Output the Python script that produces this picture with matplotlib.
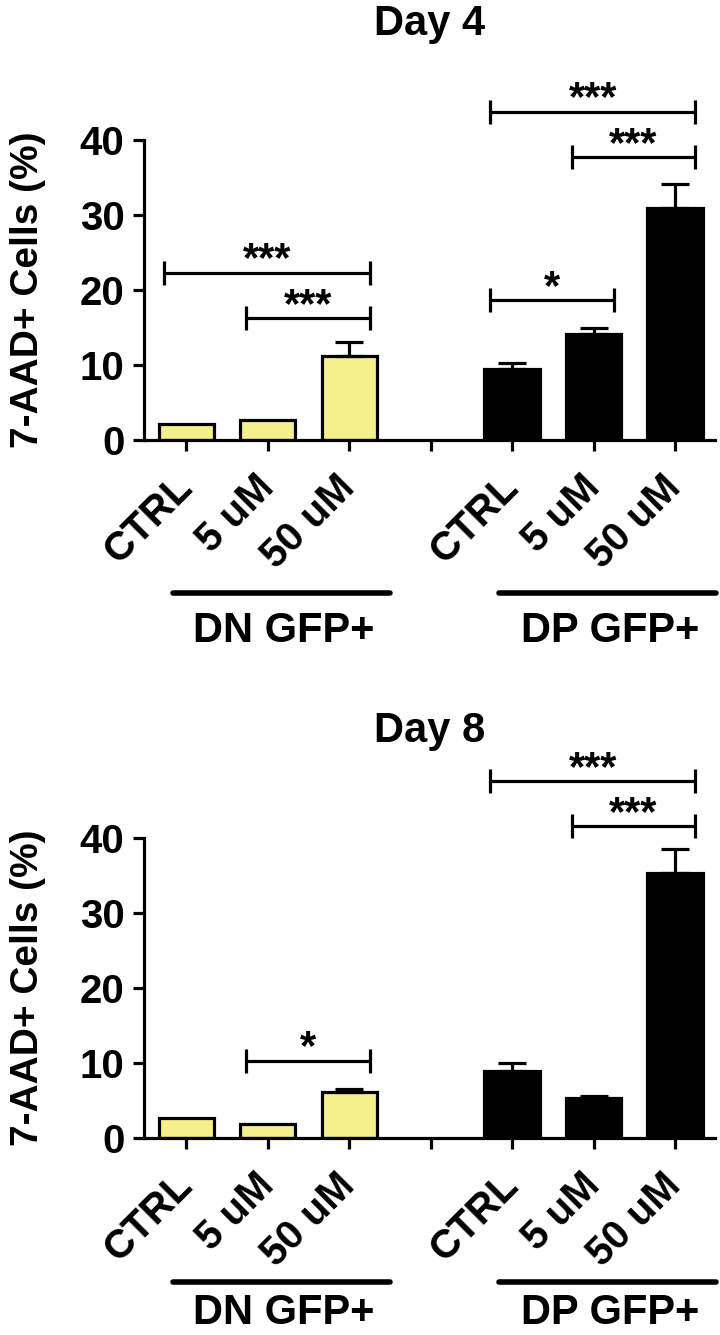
import matplotlib
matplotlib.use("Agg")
import matplotlib.pyplot as plt
import numpy as np

plt.rcParams['font.family'] = ['Liberation Sans', 'DejaVu Sans']
plt.rcParams['font.weight'] = 'bold'

# data
doses = ["CTRL", "5 uM", "50 uM"]
groups = ["DN GFP+", "DP GFP+"]

day4_dn = [2.1, 2.6, 11.2]
day4_dn_err = [0.0, 0.0, 1.8]
day4_dp = [9.4, 14.1, 30.9]
day4_dp_err = [0.9, 0.8, 3.2]

day8_dn = [2.7, 1.9, 6.2]
day8_dn_err = [0.0, 0.0, 0.3]
day8_dp = [9.0, 5.4, 35.3]
day8_dp_err = [1.0, 0.2, 3.2]

# significance brackets: (from index, to index, height, label)
day4_sig = [(0, 2, 22.3, "***"), (1, 2, 16.2, "***"),
            (4, 6, 43.8, "***"), (5, 6, 37.7, "***"), (4, 5, 18.6, "*")]
day8_sig = [(1, 2, 10.3, "*"), (4, 6, 47.6, "***"), (5, 6, 41.6, "***")]

yellow = "#f6f08c"
LW = 2.3
FS = 29


def draw_panel(ax, title, dn, dn_err, dp, dp_err, sig, title_y, line_y, group_y):
    x_dn = np.arange(3)
    x_dp = np.arange(3) + 4
    w = 0.68
    ax.bar(x_dn, dn, width=w, color=yellow, edgecolor="black", linewidth=LW, zorder=2)
    ax.bar(x_dp, dp, width=w, color="black", edgecolor="black", linewidth=LW, zorder=2)
    for xs, ys, es in [(x_dn, dn, dn_err), (x_dp, dp, dp_err)]:
        es = np.array(es)
        m = es > 0
        ax.errorbar(xs[m], np.array(ys)[m], yerr=[np.zeros(m.sum()), es[m]],
                    fmt="none", ecolor="black", elinewidth=LW, capsize=10,
                    capthick=LW, zorder=3, clip_on=False)

    ax.set_xlim(-0.52, 6.49)
    ax.set_ylim(0, 40)
    ax.set_yticks([0, 10, 20, 30, 40])
    ax.set_xticks(np.arange(7))
    ax.set_xticklabels(doses + [""] + doses, rotation=45, ha="right",
                       va="center", rotation_mode="anchor")
    ax.tick_params(axis="x", length=8, width=LW, labelsize=FS, pad=22)
    ax.tick_params(axis="y", length=8, width=LW, labelsize=FS, pad=6)
    for s in ["top", "right"]:
        ax.spines[s].set_visible(False)
    for s in ["left", "bottom"]:
        ax.spines[s].set_linewidth(LW)

    # brackets
    cap = 1.6
    for i, j, y, lab in sig:
        x0, x1 = i - 0.27, j + 0.25
        ax.plot([x0, x1], [y, y], color="black", lw=LW, clip_on=False,
                solid_capstyle="butt")
        for xe in (x0, x1):
            ax.plot([xe, xe], [y - cap, y + cap], color="black", lw=LW,
                    clip_on=False, solid_capstyle="butt")
        ax.annotate(lab, ((x0 + x1) / 2, y), xytext=(0, 1),
                    textcoords="offset points", ha="center", va="baseline",
                    fontsize=30, fontweight="bold", annotation_clip=False)

    # group lines and labels
    tr = ax.get_xaxis_transform()
    for k, g in enumerate(groups):
        a = 4 * k
        ax.plot([a - 0.16, a + 2.5], [line_y, line_y], color="black", lw=4,
                transform=tr, clip_on=False, solid_capstyle="round")
        ax.text(a + 1.2, group_y, g, transform=tr, ha="center", va="baseline",
                fontsize=30, fontweight="bold")

    ax.text(0.5, title_y, title, transform=ax.transAxes, ha="center",
            va="baseline", fontsize=30, fontweight="bold")
    ax.text(-0.203, 0.5, "7-AAD+ Cells (%)", transform=ax.transAxes,
            rotation=90, ha="center", va="center", fontsize=28,
            fontweight="bold")


fig = plt.figure(figsize=(7.2, 13.35), dpi=100)
ax1 = fig.add_axes([0.2, 1 - 440 / 1335, 0.793, 300 / 1335])
ax2 = fig.add_axes([0.2, 1 - 1138 / 1335, 0.793, 300 / 1335])

draw_panel(ax1, "Day 4", day4_dn, day4_dn_err, day4_dp, day4_dp_err, day4_sig,
           1.35, -0.51, -0.673)
draw_panel(ax2, "Day 8", day8_dn, day8_dn_err, day8_dp, day8_dp_err, day8_sig,
           1.32, -0.48, -0.62)

fig.savefig("out.png", dpi=100)
